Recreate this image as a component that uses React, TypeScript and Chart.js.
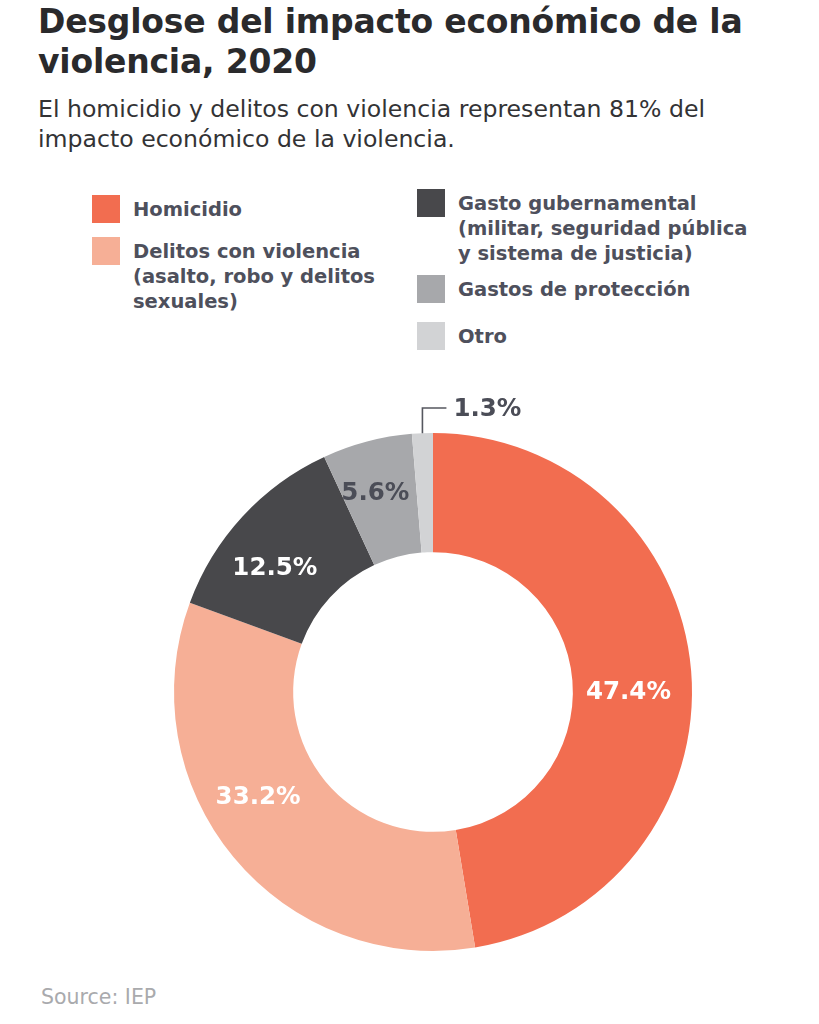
import React, { useEffect, useRef } from "react";
import { Chart, registerables } from "chart.js";

Chart.register(...registerables);

// ---- Data ----
const categories = [
  "Homicidio",
  "Delitos con violencia",
  "Gasto gubernamental",
  "Gastos de protección",
  "Otro",
];
const values = [47.4, 33.2, 12.5, 5.6, 1.3];
const valueLabels = ["47.4%", "33.2%", "12.5%", "5.6%", "1.3%"];
const colors = ["#F26D50", "#F6AF96", "#48484B", "#A7A8AB", "#D2D3D5"];

// Legend text (multi-line as in the original)
const legendLeftLines = [
  ["Homicidio"],
  ["Delitos con violencia", "(asalto, robo y delitos", "sexuales)"],
];
const legendRightLines = [
  ["Gasto gubernamental", "(militar, seguridad pública", "y sistema de justicia)"],
  ["Gastos de protección"],
  ["Otro"],
];

const title = ["Desglose del impacto económico de la", "violencia, 2020"];
const subtitle = [
  "El homicidio y delitos con violencia representan 81% del",
  "impacto económico de la violencia.",
];
const source = "Source: IEP";

// ---- Styles ----
const labelColors = ["#ffffff", "#ffffff", "#ffffff", "#4B4D57", "#4B4D57"];
const labelAngleShiftDeg = [4.4, 8.9, -4.4, -1.3, 0];
const labelRadiusShift = [-4, 4, 2, 9, 0];
const textDark = "#2A2A2C";
const legendText = "#4E505C";
const BOLD = "'DejaVu Sans', sans-serif";

const labelPlugin = {
  id: "sliceLabels",
  afterDatasetsDraw(chart: any) {
    const ctx = chart.ctx;
    const meta = chart.getDatasetMeta(0);
    ctx.save();
    ctx.font = "700 24.5px 'DejaVu Sans'";
    ctx.textBaseline = "middle";
    meta.data.forEach((arc: any, i: number) => {
      const p = arc.getProps(
        ["x", "y", "startAngle", "endAngle", "innerRadius", "outerRadius"],
        true
      );
      ctx.fillStyle = labelColors[i];
      if (i === meta.data.length - 1) {
        // small slice: leader line + outside label
        const mid = (p.startAngle + p.endAngle) / 2;
        const sx = p.x + Math.cos(mid) * p.outerRadius;
        const sy = p.y + Math.sin(mid) * p.outerRadius;
        const ty = p.y - p.outerRadius - 25;
        ctx.strokeStyle = "#55575F";
        ctx.lineWidth = 1.6;
        ctx.beginPath();
        ctx.moveTo(sx, sy);
        ctx.lineTo(sx, ty);
        ctx.lineTo(sx + 24, ty);
        ctx.stroke();
        ctx.textAlign = "left";
        ctx.fillText(valueLabels[i], sx + 31, ty + 1.5);
      } else {
        const mid =
          (p.startAngle + p.endAngle) / 2 + (labelAngleShiftDeg[i] * Math.PI) / 180;
        const r = (p.innerRadius + p.outerRadius) / 2 + labelRadiusShift[i];
        ctx.textAlign = "center";
        ctx.fillText(
          valueLabels[i],
          p.x + Math.cos(mid) * r,
          p.y + Math.sin(mid) * r + 1.5
        );
      }
    });
    ctx.restore();
  },
};

function LegendItem({ color, lines, x, y, lineH }: any) {
  return (
    <div style={{ position: "absolute", left: x, top: y }}>
      <div
        style={{
          position: "absolute",
          left: 0,
          top: 0,
          width: 28,
          height: 28,
          background: color,
        }}
      />
      <div
        style={{
          position: "absolute",
          left: 41,
          top: 14 - lineH / 2,
          whiteSpace: "nowrap",
          fontFamily: BOLD,
          fontWeight: 700,
          fontSize: "19.5px",
          lineHeight: `${lineH}px`,
          color: legendText,
        }}
      >
        {lines.map((l: string, k: number) => (
          <div key={k}>{l}</div>
        ))}
      </div>
    </div>
  );
}

export default function App() {
  const canvasRef = useRef<HTMLCanvasElement | null>(null);

  useEffect(() => {
    const canvas = canvasRef.current;
    if (!canvas) return;
    const chart = new Chart(canvas, {
      type: "doughnut",
      data: {
        labels: categories,
        datasets: [
          {
            data: values,
            backgroundColor: colors,
            borderWidth: 0,
            hoverOffset: 0,
          },
        ],
      },
      options: {
        animation: false,
        responsive: true,
        maintainAspectRatio: false,
        cutout: "54%",
        rotation: 0,
        layout: { padding: { left: 174, right: 127, top: 53, bottom: 29 } },
        plugins: {
          legend: { display: false },
          tooltip: { enabled: false },
        },
        events: [],
      },
      plugins: [labelPlugin],
    });
    return () => chart.destroy();
  }, []);

  return (
    <div
      style={{
        position: "absolute",
        left: 0,
        top: 0,
        width: 819,
        height: 1024,
        background: "#ffffff",
        fontFamily: "'DejaVu Sans', sans-serif",
        overflow: "hidden",
      }}
    >
      <div
        style={{
          position: "absolute",
          left: 38,
          top: 2,
          fontFamily: BOLD,
          fontWeight: 700,
          fontSize: "33px",
          lineHeight: "40px",
          letterSpacing: "-0.2px",
          color: textDark,
          whiteSpace: "nowrap",
        }}
      >
        {title.map((t, i) => (
          <div key={i}>{t}</div>
        ))}
      </div>
      <div
        style={{
          position: "absolute",
          left: 38,
          top: 94,
          fontFamily: "'DejaVu Sans', sans-serif",
          fontWeight: 400,
          fontSize: "23.6px",
          lineHeight: "30px",
          color: "#333335",
          whiteSpace: "nowrap",
        }}
      >
        {subtitle.map((t, i) => (
          <div key={i}>{t}</div>
        ))}
      </div>

      <LegendItem color={colors[0]} lines={legendLeftLines[0]} x={92} y={195} lineH={25} />
      <LegendItem color={colors[1]} lines={legendLeftLines[1]} x={92} y={237} lineH={25} />
      <LegendItem color={colors[2]} lines={legendRightLines[0]} x={417} y={189} lineH={25} />
      <LegendItem color={colors[3]} lines={legendRightLines[1]} x={417} y={275} lineH={25} />
      <LegendItem color={colors[4]} lines={legendRightLines[2]} x={417} y={322} lineH={25} />

      <div style={{ position: "absolute", left: 0, top: 380, width: 819, height: 600 }}>
        <canvas ref={canvasRef} />
      </div>

      <div
        style={{
          position: "absolute",
          left: 41,
          top: 985,
          fontFamily: "'DejaVu Sans', sans-serif",
          fontSize: "20.5px",
          lineHeight: "normal",
          color: "#A9AAAD",
          whiteSpace: "nowrap",
        }}
      >
        {source}
      </div>
    </div>
  );
}
